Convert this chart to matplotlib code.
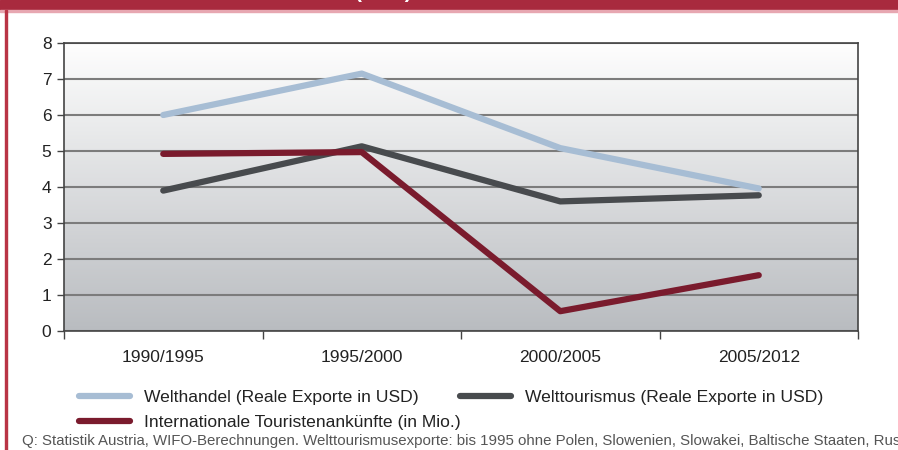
import numpy as np
import matplotlib
matplotlib.use("Agg")
from matplotlib import pyplot as plt
from matplotlib.lines import Line2D
from matplotlib.patches import Rectangle

# data
perioden = ["1990/1995", "1995/2000", "2000/2005", "2005/2012"]
welthandel = [6.0, 7.15, 5.08, 3.96]
welttourismus = [3.9, 5.13, 3.6, 3.77]
ankuenfte = [4.92, 4.97, 0.55, 1.55]

plt.rcParams['font.family'] = ['Liberation Sans', 'DejaVu Sans']

W, H = 898, 450
fig = plt.figure(figsize=(W / 100, H / 100), dpi=100)

# frame: red banner on top, red line on the left
fig.patches.append(Rectangle((0, 1 - 10 / H), 1, 10 / H, transform=fig.transFigure,
                             color="#a82a3e", zorder=0))
fig.patches.append(Rectangle((0, 1 - 12 / H), 1, 2 / H, transform=fig.transFigure,
                             color="#e7a7b1", zorder=0))
fig.patches.append(Rectangle((5 / W, 0), 2 / W, 1 - 10 / H, transform=fig.transFigure,
                             color="#b93445", zorder=0))
# title, cut off by the top edge as in the original
fig.text(383 / W, 1 - 2 / H, "(in %)", color="white", fontsize=15, fontweight="bold",
         ha="center", va="bottom")

ax = fig.add_axes([64 / W, 1 - 331 / H, (858 - 64) / W, (331 - 43) / H])
x = np.arange(len(perioden))

# gradient background
grad = np.linspace(0, 1, 256).reshape(-1, 1)
ax.imshow(grad, extent=[-0.5, 3.5, 0, 8], aspect="auto", origin="upper",
          cmap=matplotlib.colors.LinearSegmentedColormap.from_list("g", ["#fefefe", "#b9bcc0"]),
          zorder=0)

ax.set_xlim(-0.5, 3.5)
ax.set_ylim(0, 8)
ax.set_yticks(range(0, 9))
ax.yaxis.grid(True, color="#7c7c7c", linewidth=1.5, zorder=1)
ax.set_axisbelow(False)

ax.plot(x, welthandel, color="#a7bdd4", linewidth=4.5, solid_capstyle="round", zorder=3)
ax.plot(x, welttourismus, color="#484b4e", linewidth=4.5, solid_capstyle="round", zorder=3)
ax.plot(x, ankuenfte, color="#7a1b2d", linewidth=4.5, solid_capstyle="round", zorder=3)

ax.set_xticks(x)
ax.set_xticklabels(perioden, fontsize=12.5, color="#222222")
ax.tick_params(axis="x", length=0, pad=14)
ax.set_xticks(np.arange(-0.5, 4, 1), minor=True)
ax.tick_params(axis="x", which="minor", length=6, width=1, color="#444444", direction="out")
ax.tick_params(axis="y", labelsize=12.5, labelcolor="#222222", length=5, width=1,
               color="#444444", pad=4)
for s in ax.spines.values():
    s.set_color("#444444")
    s.set_linewidth(1.2)
    s.set_zorder(4)

# legend: two rows, the first one flowing (no column alignment)
h1 = Line2D([], [], color="#a7bdd4", linewidth=4.5, solid_capstyle="round")
h2 = Line2D([], [], color="#484b4e", linewidth=4.5, solid_capstyle="round")
h3 = Line2D([], [], color="#7a1b2d", linewidth=4.5, solid_capstyle="round")
leg_kw = dict(loc="upper left", frameon=False, fontsize=12.6, handlelength=2.9,
              handletextpad=0.8, borderpad=0)
leg1 = fig.legend([h1, h2],
                  ["Welthandel (Reale Exporte in USD)", "Welttourismus (Reale Exporte in USD)"],
                  ncol=2, columnspacing=2.4, bbox_to_anchor=(70 / W, 1 - 381 / H), **leg_kw)
leg2 = fig.legend([h3], ["Internationale Touristenankünfte (in Mio.)"],
                  bbox_to_anchor=(70 / W, 1 - 406 / H), **leg_kw)
for leg in (leg1, leg2):
    for t in leg.get_texts():
        t.set_color("#222222")

fig.text(22 / W, 1 - 441 / H,
         "Q: Statistik Austria, WIFO-Berechnungen. Welttourismusexporte: bis 1995 ohne Polen, "
         "Slowenien, Slowakei, Baltische Staaten, Russland.",
         fontsize=10.8, color="#555555", ha="left", va="center")

fig.savefig("out.png", dpi=100)
